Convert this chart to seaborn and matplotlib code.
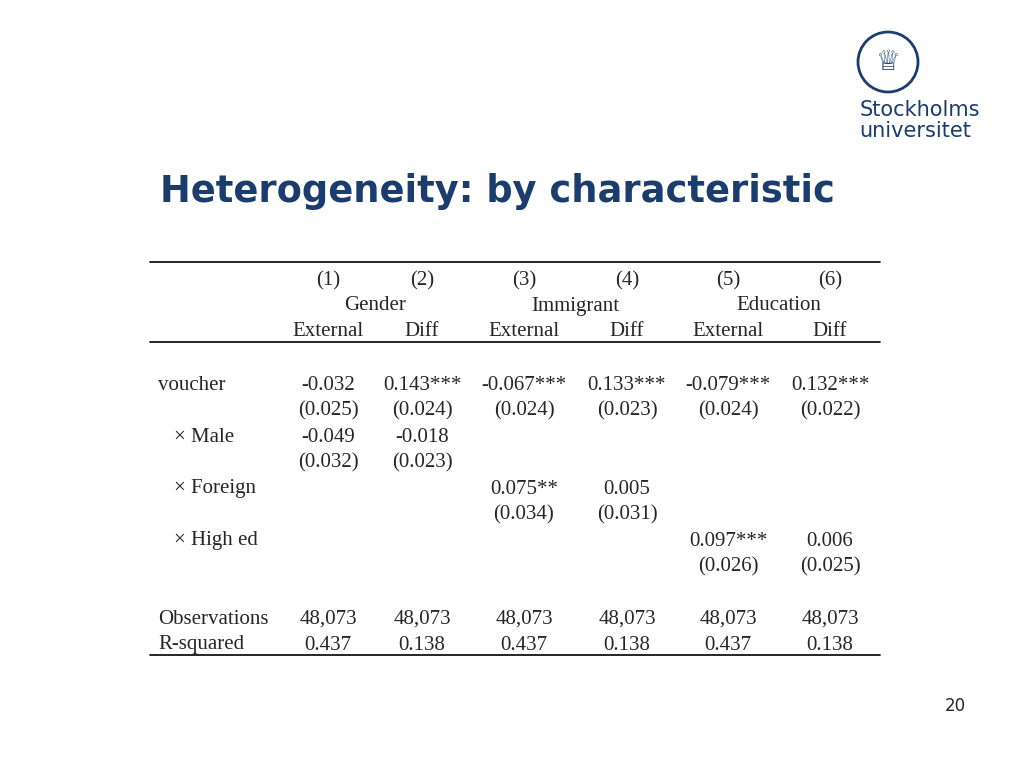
import matplotlib.pyplot as plt
import seaborn as sns

sns.set_style("white")

# table content
col_nums = ["(1)", "(2)", "(3)", "(4)", "(5)", "(6)"]
groups = ["Gender", "Immigrant", "Education"]
sub_heads = ["External", "Diff", "External", "Diff", "External", "Diff"]
row_labels = ["voucher", "", "\u00d7 Male", "", "\u00d7 Foreign", "", "\u00d7 High ed", ""]
cells = [
    ["-0.032", "0.143***", "-0.067***", "0.133***", "-0.079***", "0.132***"],
    ["(0.025)", "(0.024)", "(0.024)", "(0.023)", "(0.024)", "(0.022)"],
    ["-0.049", "-0.018", "", "", "", ""],
    ["(0.032)", "(0.023)", "", "", "", ""],
    ["", "", "0.075**", "0.005", "", ""],
    ["", "", "(0.034)", "(0.031)", "", ""],
    ["", "", "", "", "0.097***", "0.006"],
    ["", "", "", "", "(0.026)", "(0.025)"],
]
stat_labels = ["Observations", "R-squared"]
stats = [
    ["48,073"] * 6,
    ["0.437", "0.138"] * 3,
]

fig = plt.figure(figsize=(10.24, 7.68), dpi=100)
ax = fig.add_axes([0, 0, 1, 1])
ax.set_xlim(0, 1024)
ax.set_ylim(768, 0)
ax.axis("off")

navy = "#1a3d6d"
ax.text(160, 192, "Heterogeneity: by characteristic", fontsize=26.5, fontweight="bold",
        color=navy, va="center", ha="left", family="DejaVu Sans")

# logo (approximation)
circ = plt.Circle((888, 62), 30, fill=False, color=navy, lw=2)
ax.add_patch(circ)
ax.text(888, 62, "\u2655", fontsize=20, color=navy, ha="center", va="center")
ax.text(920, 110, "Stockholms", fontsize=15, color=navy, ha="center", va="center",
        family="DejaVu Sans")
ax.text(915, 131, "universitet", fontsize=15, color=navy, ha="center", va="center",
        family="DejaVu Sans")

ser = "Liberation Serif"
fs = 15
xs = [328, 422, 524, 627, 728, 830]
dy = 3

for y in [262, 342, 655]:
    ax.plot([150, 880], [y, y], color="black", lw=1.2)

for x, t in zip(xs, col_nums):
    ax.text(x, 278 + dy, t, family=ser, fontsize=fs, ha="center", va="center")
for i, g in enumerate(groups):
    ax.text((xs[2 * i] + xs[2 * i + 1]) / 2, 303 + dy, g, family=ser,
            fontsize=fs, ha="center", va="center")
for x, t in zip(xs, sub_heads):
    ax.text(x, 329 + dy, t, family=ser, fontsize=fs, ha="center", va="center")

row_y = [382, 408, 434, 460, 486, 512, 538, 564]
for y, lab, row in zip(row_y, row_labels, cells):
    ax.text(158 if lab == "voucher" else 174, y + dy, lab, family=ser, fontsize=fs,
            ha="left", va="center")
    for x, t in zip(xs, row):
        ax.text(x, y + dy, t, family=ser, fontsize=fs, ha="center", va="center")

for y, lab, row in zip([616, 642], stat_labels, stats):
    ax.text(158, y + dy, lab, family=ser, fontsize=fs, ha="left", va="center")
    for x, t in zip(xs, row):
        ax.text(x, y + dy, t, family=ser, fontsize=fs, ha="center", va="center")

ax.text(955, 706, "20", fontsize=12, ha="center", va="center", family="DejaVu Sans")

fig.savefig("out.png", dpi=100)
